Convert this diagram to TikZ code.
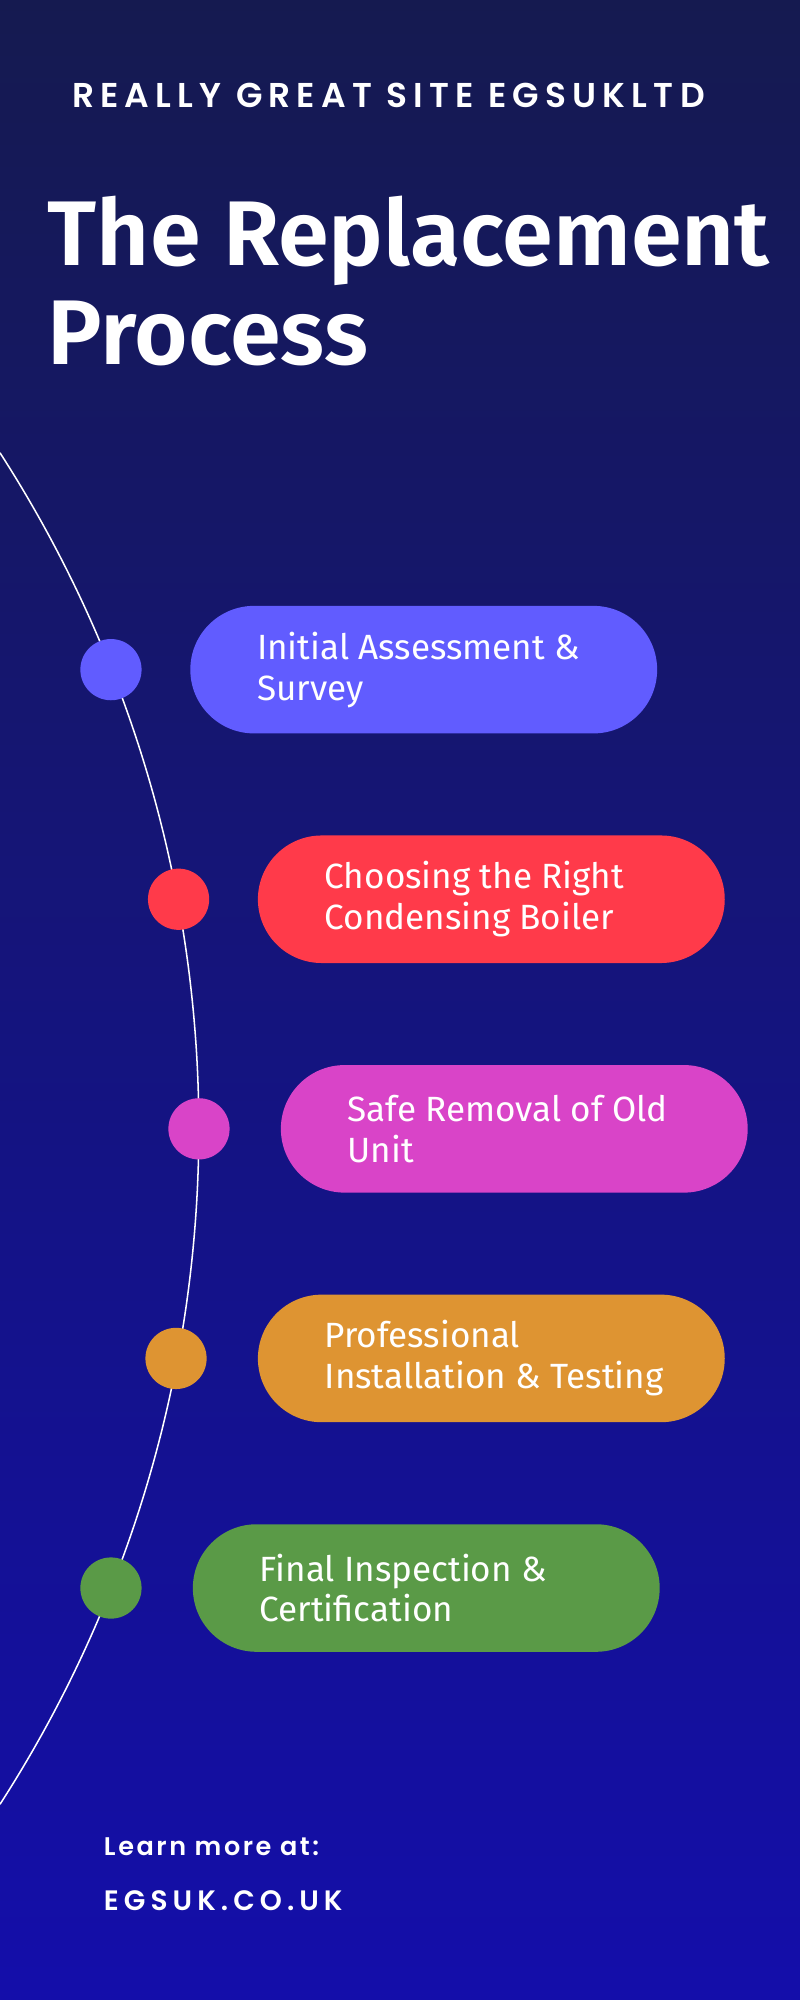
\documentclass[tikz,border=0pt]{standalone}
\usepackage{fontspec}
\setmainfont{Fira Sans}
\newfontfamily\popb[LetterSpace=18]{Poppins SemiBold}
\newfontfamily\popt{Poppins SemiBold}
\newfontfamily\ttl{Fira Sans SemiBold}
\definecolor{cA}{HTML}{615CFF}
\definecolor{cB}{HTML}{FF3A4A}
\definecolor{cC}{HTML}{D944C8}
\definecolor{cD}{HTML}{DE9432}
\definecolor{cE}{HTML}{5A9A47}
\begin{document}
\begin{tikzpicture}[x=1pt,y=-1pt,
  pill/.style={rounded corners=50pt,minimum width=366pt,minimum height=100pt,inner sep=0pt},
  dot/.style={circle,minimum size=48pt,inner sep=0pt},
  ptext/.style={text=white,align=left,anchor=west,font=\fontsize{27.5}{32}\selectfont}]
\useasboundingbox (0,0) rectangle (627,1568);
\shade[top color={rgb,255:red,21;green,26;blue,80},bottom color={rgb,255:red,20;green,14;blue,170}] (0,0) rectangle (627,1568);
\draw[white,line width=1.2pt] (0,355) arc[start angle=32.8,end angle=-32.8,x radius=978,y radius=-978];
\node[anchor=west,text=white,font=\popb\fontsize{27}{30}\selectfont] (hd) at (53,75) {REALLY GREAT SITE EGSUKLTD};
\node[anchor=north west,text=white,align=left,font=\ttl\fontsize{72}{78}\selectfont] (tt) at (34,150) {The Replacement\\Process};
\foreach \n/\c/\x/\y/\cx/\t in {a/cA/149/525/87/{Initial Assessment \&\\Survey},
 b/cB/202/705/140/{Choosing the Right\\Condensing Boiler},
 c/cC/220/885/156/{Safe Removal of Old\\Unit},
 d/cD/202/1065/138/{Professional\\Installation \& Testing},
 e/cE/151/1245/87/{Final Inspection \&\\Certification}}{
 \node[pill,fill=\c,anchor=west] (p\n) at (\x,\y) {};
 \node[dot,fill=\c] (d\n) at (\cx,\y) {};
 \node[ptext] (t\n) at (\x+49,\y) {\t};
}
\node[anchor=west,text=white,font=\popt\fontsize{20}{24}\selectfont\addfontfeature{LetterSpace=10}] (lm) at (78,1448) {Learn more at:};
\node[anchor=west,text=white,font=\popb\fontsize{22}{26}\selectfont] (url) at (78,1490) {EGSUK.CO.UK};
\end{tikzpicture}
\end{document}
